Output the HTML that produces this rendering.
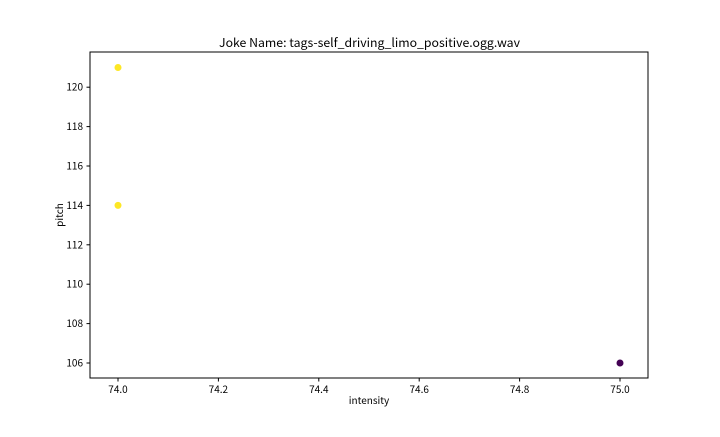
<!DOCTYPE html>
<html><head><meta charset="utf-8"><style>
body{margin:0;background:#fff;}
svg text{font-family:"WenQuanYi Zen Hei","Noto Sans CJK SC","Liberation Sans",sans-serif;fill:#000;}
</style></head><body>
<svg width="720" height="432">
<text x="219" y="47" font-size="12" textLength="301" lengthAdjust="spacingAndGlyphs">Joke Name: tags-self_driving_limo_positive.ogg.wav</text>
<g id="ticks"></g>
<g id="pts"></g>
<rect x="90" y="52" width="558" height="326" fill="none" stroke="#000" stroke-width="1"/>
<text x="369" y="404" font-size="10" text-anchor="middle">intensity</text>
<text transform="translate(63,215) rotate(-90)" font-size="10" text-anchor="middle">pitch</text>
</svg>
<script>
const xs=[74,74,75];
const ys=[121,114,106];
const colors=['#fde725','#fde725','#440154'];
const xTicks=[74.0,74.2,74.4,74.6,74.8,75.0];
const yTicks=[106,108,110,112,114,116,118,120];
const X=v=>118+(v-74)*502;
const Y=v=>363-(v-106)*19.7;
const ns='http://www.w3.org/2000/svg';
const tg=document.getElementById('ticks'),pg=document.getElementById('pts');
function mk(t,a,p){const e=document.createElementNS(ns,t);for(const k in a)e.setAttribute(k,a[k]);p.appendChild(e);return e;}
xTicks.forEach(v=>{
 const l=mk('line',{x1:X(v),x2:X(v),y1:378,y2:381.5,stroke:'#000'},tg);
 
 
 const t=mk('text',{x:X(v),y:393,'font-size':10,'text-anchor':'middle'},tg);t.textContent=v.toFixed(1);
 
 
});
yTicks.forEach(v=>{
 const l=mk('line',{x1:86.5,x2:90,y1:Y(v),y2:Y(v),stroke:'#000'},tg);
 
 
 const t=mk('text',{x:83,y:Y(v)+3.5,'font-size':10,'text-anchor':'end'},tg);t.textContent=v;
 
 
});
xs.forEach((x,i)=>{
 const c=mk('circle',{cx:X(x),cy:Y(ys[i]),r:3.5,fill:colors[i]},pg);
 
 
});
</script>
</body></html>
